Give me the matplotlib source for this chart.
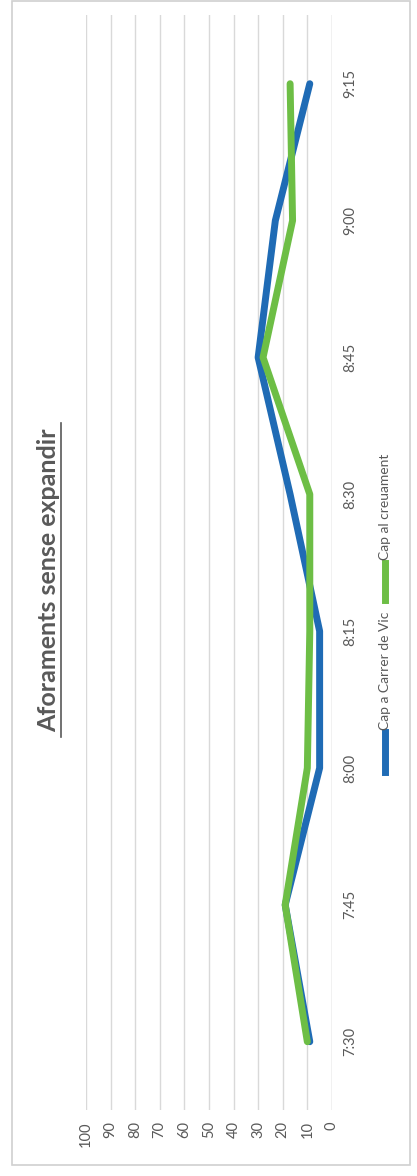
import matplotlib.pyplot as plt
from matplotlib.lines import Line2D
from matplotlib.patches import Rectangle

plt.rcParams['font.family'] = ['Lato', 'DejaVu Sans']

times = ['7:30', '7:45', '8:00', '8:15', '8:30', '8:45', '9:00', '9:15']
carrer_vic = [9, 19, 5, 5, 17, 30, 23, 9]
creuament = [10, 19, 10, 9, 9, 28, 16, 17]
value_ticks = [0, 10, 20, 30, 40, 50, 60, 70, 80, 90, 100]

blue = '#1F6BB5'
green = '#6DBE45'
grey = '#595959'

fig = plt.figure(figsize=(4.17, 11.76), dpi=100)
fig.add_artist(Rectangle((0.029, 0.009), 0.955, 0.99, transform=fig.transFigure,
                         fill=False, edgecolor='#d0d0d0', linewidth=1.2))

# rotated chart: values run right-to-left, times bottom-to-top
ax = fig.add_axes([0.206, 0.056, 0.590, 0.931])
pos = list(range(len(times)))
ax.plot(carrer_vic, pos, color=blue, linewidth=5, solid_capstyle='round', zorder=3)
ax.plot(creuament, pos, color=green, linewidth=5, solid_capstyle='round', zorder=3)

ax.set_xlim(100, 0)
ax.set_ylim(-0.5, len(times) - 0.5)
ax.set_xticks(value_ticks)
ax.set_xticklabels([str(v) for v in value_ticks], rotation=90, fontsize=10.5, color=grey)
ax.yaxis.tick_right()
ax.set_yticks(pos)
ax.set_yticklabels(times, rotation=90, fontsize=10.5, color=grey, va='center')
ax.tick_params(length=0, pad=8)
ax.grid(axis='x', color='#d9d9d9', linewidth=1)
for s in ax.spines.values():
    s.set_visible(False)
ax.axvline(0, color='#d9d9d9', linewidth=1)

fig.text(0.117, 1 - 580 / 1176, 'Aforaments sense expandir', rotation=90,
         ha='center', va='center', fontsize=18, fontweight='bold', color=grey)
fig.add_artist(Line2D([0.146, 0.146], [1 - 423 / 1176, 1 - 737 / 1176],
                      transform=fig.transFigure, color=grey, linewidth=1.2))

# legend, rotated
lx = 385 / 417
fig.add_artist(Line2D([lx, lx], [1 - 772 / 1176, 1 - 732 / 1176], transform=fig.transFigure,
                      color=blue, linewidth=5))
fig.text(lx, 1 - 730 / 1176, 'Cap a Carrer de Vic', rotation=90, ha='center', va='bottom',
         fontsize=10, color=grey)
fig.add_artist(Line2D([lx, lx], [1 - 600 / 1176, 1 - 563 / 1176], transform=fig.transFigure,
                      color=green, linewidth=5))
fig.text(lx, 1 - 560 / 1176, 'Cap al creuament', rotation=90, ha='center', va='bottom',
         fontsize=10, color=grey)

fig.savefig('out.png', dpi=100)
